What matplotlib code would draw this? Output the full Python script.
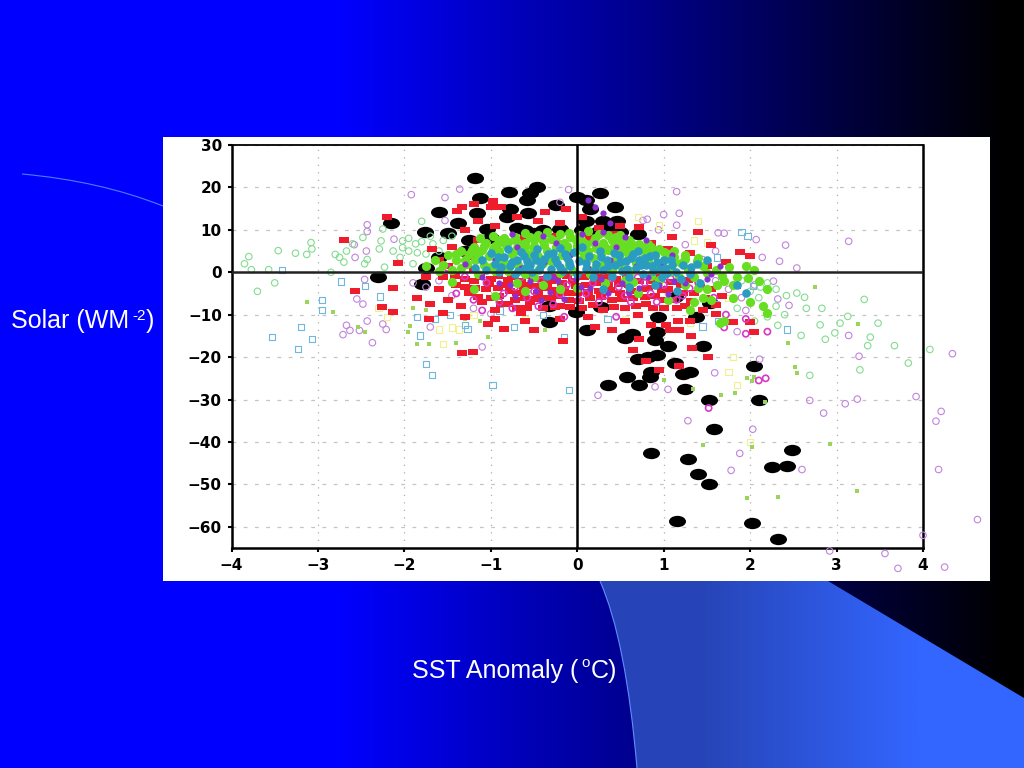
import numpy as np
import matplotlib
matplotlib.use("Agg")
import matplotlib.pyplot as plt
from matplotlib.path import Path
from matplotlib.patches import PathPatch, Rectangle

# ==================== data (SST anomaly, solar) ====================
black_pts = [(-1.18,22.3),(-1.13,17.5),(-0.79,19),(-0.55,18.7),(-0.47,20),(-0.58,17),(-0.78,15),(-0.57,14),
 (-1.6,14.2),(-1.16,14),(-0.25,15.8),(-2.15,11.5),(-1.76,9.5),(-1.5,9.2),(-1.38,11.5),(-1.04,10.3),(-0.81,13),(-0.6,10),(-0.4,10),
 (0.26,18.8),(0.0,17.7),(0.1,17),(0.15,15),(0.44,15.3),(0.1,12),(0.3,12),(0.46,12.2),(-1.25,7.5),(-1,8),
 (-0.7,10.5),(-0.2,10.2),(0.05,10),(0.25,9.8),(0.5,9.5),(0.7,9),(-0.5,9.3),(0.35,10.7),(-1.3,5),(-1.6,3.5),
 (-2.3,-1.2),(-1.8,-2.8),(-1.75,1),(-0.33,-7.9),(-0.33,-11.8),(-0.02,-9.4),(0.11,-13.6),(0.27,-8.2),
 (0.55,-15.5),(0.63,-14.5),(0.35,-26.5),(0.58,-24.8),(0.7,-20.5),(0.72,-26.5),(0.84,-24.8),(0.85,-23.5),(0.82,-20),
 (0.92,-19.5),(0.9,-16),(0.92,-14),(0.93,-10.6),(1.05,-17.5),(1.13,-21.5),(1.25,-27.5),(1.3,-23.5),(1.22,-24),
 (1.37,-10.6),(1.46,-17.3),(1.53,-30.2),(1.58,-37),(0.85,-42.7),(1.28,-44),(1.4,-47.5),(1.52,-50),(1.15,-58.7),
 (2.02,-59.2),(2.32,-62.8),(2.25,-46),(2.43,-45.7),(2.48,-41.8),(2.04,-22),(2.1,-30),(1.13,-5.8),(1.54,-7.3)]

purple_pts = [(-1.92,18.3),(-1.36,19.6),(-1.53,17.6),(-1.53,12.2),(-2.43,11.2),(-2.43,9.6),(-2.12,7.8),(-2.58,6.5),
 (-2.44,5),(-2.57,3.5),(-2.46,-1.7),(-2.55,-6.3),(-2.48,-7.5),(-2.43,-11.5),(-2.67,-12.5),(-2.71,-14.7),(-2.63,-13.7),
 (-2.52,-13.7),(-2.37,-16.6),(-2.25,-12.2),(-2.21,-13.5),(-1.7,-12.9),(-1.1,-17.6),(-1,-9.8),(1.15,19),(1,13.6),
 (1.18,13.9),(0.81,12.5),(0.76,12.2),(0.94,10),(1.15,11.1),(1.63,9.3),(1.7,9.2),(2.07,7.7),(2.41,6.4),(3.14,7.3),
 (2.34,2.6),(2.54,1),(2.27,-2.1),(2.32,-6.3),(2.45,-7.8),(3.14,-14.9),(3.26,-19.8),(4.34,-19.2),(2.14,3.5),(0.24,-29),
 (0.9,-27),(1.05,-27.6),(1.59,-23.7),(1.28,-35),(2.03,-37),(1.88,-42.7),(1.78,-46.7),(2.6,-46.5),(2.69,-30.2),
 (2.85,-33.2),(3.1,-31),(3.24,-29.9),(3.92,-29.3),(4.21,-32.8),(4.15,-35.1),(4.18,-46.5),(4.63,-58.3),(4,-62),
 (3.56,-66.3),(3.71,-69.8),(4.25,-69.5),(2.92,-65.7),(2.11,-20.5),(-1.9,-2.5),(-1.75,-3.5),(-1.6,-2),(-1.45,-5.5),
 (-1.2,-8.5),(1.6,-2),(1.75,-4),(1.9,-6),(2.05,-3),(1.45,3),(1.6,5),(1.25,6.5),(-0.1,19.5),(-0.2,16.5),(1.95,-9),(1.85,-14)]

red_pts = [(-2.2,13.1),(-2.7,7.5),(-2.07,2.2),(-2.57,-4.5),(-2.13,-3.7),(-2.26,-8.2),(-2.13,-9.4),(-1.72,-11),(-1.33,-19),
 (-1.21,-18.7),(-1.03,-12.2),(-0.85,-13.3),(-0.5,-13.6),(-0.17,-16.3),(-0.98,16.9),(-1.2,16),(-1.33,15.3),(-1.39,14.4),
 (-1,15.5),(-0.88,15.3),(-0.37,14.1),(-0.13,14.9),(0.72,10.7),(1.1,8.2),(1.4,9.4),(1.88,4.7),(2,3.8),(1.84,-3.3),
 (1.61,-9.8),(1.16,-11.5),(1.07,-13.7),(1.18,-13.7),(0.4,-13.6),(0.2,-12.8),(0.72,-15.8),(1.03,-12.4),(1.32,-15),
 (1.33,-17.8),(1.51,-20),(0.65,-18.4),(1.8,-11.8),(2.05,-14.1),(2,-11.8),(0.13,-10.6),(0.95,-23),(1.18,-22),(0.8,-21),
 (-1.6,-4),(-1.5,-6.5),(-1.4,-3),(-1.35,-8),(-1.25,-5),(-1.2,-2),(-1.1,-7),(-1.05,-4),(-1,-1.5),(-0.95,-9),(-0.9,-5.5),
 (-0.85,-3),(-0.8,-7.5),(-0.75,-1),(-0.7,-5),(-0.65,-9.5),(-0.6,-3),(-0.55,-7),(-0.5,-1.5),(-0.45,-5),(-0.4,-8.5),
 (-0.35,-3),(-0.3,-6),(-0.25,-1),(-0.2,-8),(-0.15,-4),(-0.1,-6.5),(-0.05,-2),(0,-5),(0.05,-8.5),(0.1,-3),(0.15,-6),
 (0.2,-1),(0.25,-4.5),(0.3,-9),(0.35,-3),(0.4,-6.5),(0.45,-1.5),(0.5,-5),(0.55,-8.5),(0.6,-3),(0.65,-6),(0.7,-10),
 (0.75,-4),(0.8,-7.5),(0.85,-2),(0.9,-5.5),(1,-8.5),(1.05,-4),(1.1,-6.5),(1.2,-3),(1.25,-8),(1.35,-5),(1.45,-9),(1.55,-4),
 (-1.3,10),(-1.15,12),(-0.95,11),(-0.7,13),(-0.45,12),(-0.2,11.5),(0.05,13),(0.25,10.5),(0.5,11),(-1.45,6),(-1.6,3),
 (-1.55,-1),(-1.42,-0.8),(-1.3,-1.5),(-1.3,-3.5),(-1.18,-3.8),(-1.12,-1),(-1.15,-5.8),(-1.02,-2.8),(-1,-6),(-0.92,-0.8),
 (-0.92,-3.8),(-0.88,-7.5),(-0.8,-1.8),(-0.78,-4.5),(-0.72,-6.5),(-0.7,-8.5),(-0.65,-2),(-0.62,-4.2),(-0.6,-6),(-0.58,-8.5),
 (-0.52,-0.8),(-0.5,-3.2),(-0.48,-6.2),(-0.42,-1.5),(-0.38,-3.8),(-0.38,-6),(-0.3,-2),(-0.28,-4.2),(-0.26,-8.2),(-0.22,-5.5),
 (-0.18,-2.6),(-0.12,-0.8),(-0.1,-4.8),(-0.08,-8.2),(-0.02,-3.2),(0.02,-6.8),(0.08,-1.2),(0.12,-4.6),(0.18,-7.8),(0.22,-2.6),
 (0.28,-5.8),(0.32,-1.2),(0.38,-4.2),(0.42,-8.2),(0.48,-2.8),(0.52,-6.4),(0.58,-1.2),(0.62,-4.4),(0.68,-8),(0.72,-2),(0.78,-5.8),
 (0.82,-3.6),(0.88,-8.4),(0.92,-1.2),(0.98,-4.2),(1.02,-6.6),(1.08,-2.2),(1.15,-8.5),(1.22,-5),(1.28,-1.8),(1.32,-6.8),(1.42,-3.5),
 (1.48,-6),(1.6,-7.8),(1.68,-5.5),(-1.2,0.8),(-0.9,1.5),(-1.25,3.5),(-1.5,1.5),(-1.75,-1),(-1.15,7.5),(-0.6,8),(-0.25,8.5),(0.15,8),
 (0.42,9),(0.6,6.5),(0.85,7),(1.05,5.5),(1.3,4.5),(1.5,1.5),(1.72,2.5),(1.55,6.5),(-1.68,5.5),(-1.85,-6),(-1.7,-7.5),(-1.55,-9.5),
 (-1.3,-10.5),(-0.95,-11),(-0.6,-11.5),(-0.2,-11),(0.55,-11.5),(0.85,-12.5),(1.3,-11.5)]

magenta_pts = [(-1.05,-2.5),(-0.9,-7),(-0.72,-3.5),(-0.58,-6),(-0.42,-2),(-0.28,-7.5),(-0.12,-3),(0.02,-6.5),(0.18,-2.5),
 (0.32,-5.5),(0.48,-3.5),(0.62,-7),(0.78,-2.5),(0.92,-7),(1.08,-1.5),(1.22,-5.5),(1.4,-2.5),(1.58,-6),(1.72,-10),(1.95,-14.5),
 (2.2,-14),(2.18,-25),(2.1,-25.5),(1.52,-32),(1.7,-13),(1.95,-11),(-1.3,-1),(-1.5,1),(-0.15,-10.5),(0.45,-10.5),
 (-0.85,-5),(-0.65,-1.2),(-0.5,-4.5),(-0.35,-1),(-0.2,-5.2),(-0.05,-1.2),(0.1,-5),(0.25,-7),(0.4,-1.5),(0.55,-5.5),(0.7,-1.2),(0.85,-5),
 (1,-3),(1.15,-6.5),(1.3,-3.8),(-1.2,-6.5),(-1.4,-5),(-1.1,-9),(-0.75,-8.5),(-0.45,-8)]

violet_pts = [(-1.3,2),(-1.1,-1),(-0.95,3),(-0.78,-3),(-0.65,1),(-0.48,-4.5),(-0.38,2.5),(-0.22,-2),(-0.08,4),(0.04,-3.5),
 (0.12,1),(0.28,-1.5),(0.38,3),(0.52,-2.5),(0.68,1.5),(0.82,-1),(0.98,2),(1.12,-2),(1.32,0.5),(1.5,-1.5),(0.2,7),(0.45,6),
 (0.3,14),(0.2,15.5),(0.12,17),(0.38,11.5),(-0.25,7),(-0.7,6),(1.65,1.5),(1.1,4),(1.55,-0.5),
 (-0.9,-2.5),(-0.72,-5.5),(-0.55,-2),(-0.42,-6.5),(-0.32,-4.6),(-0.28,-1.2),(-0.15,-6.2),(-0.02,-1.5),(0.15,-3.6),(0.35,-5),(0.6,-5),
 (0.72,-3.6),(0.95,-3),(1.05,-5.2),(1.25,-2.6),(-0.75,9),(-0.4,8.6),(0.05,9),(0.3,9.4),(0.55,8.4),(0.8,7.6)]

teal_pts = [(-1.18,1),(-1.1,3),(-1.05,0.5),(-1,4.5),(-0.95,2),(-0.9,0),(-0.85,3.5),(-0.8,5.5),(-0.78,1.5),(-0.72,-0.5),(-0.7,3),
 (-0.65,4.8),(-0.6,1),(-0.58,2.6),(-0.52,0),(-0.5,4),(-0.46,5.6),(-0.42,1.8),(-0.38,3.2),(-0.35,-0.8),(-0.3,0.8),(-0.28,4.6),
 (-0.24,2.2),(-0.2,5.8),(-0.16,0.2),(-0.12,3.4),(-0.08,1.4),(-0.04,4.8),(0,-0.5),(0.02,2.6),(0.06,6),(0.1,0.8),(0.14,3.8),
 (0.18,-1),(0.22,2),(0.26,5),(0.3,0.5),(0.34,3),(0.4,-0.8),(0.44,1.6),(0.48,4),(0.52,0.2),(0.56,2.6),(0.6,-1.2),(0.64,4.4),
 (0.68,1),(0.72,3),(0.76,-0.5),(0.8,1.8),(0.84,3.8),(0.88,0.2),(0.92,2.4),(0.98,-1),(1.02,1),(1.08,2.8),(1.14,0),(1.22,1.6),
 (1.3,-0.5),(1.38,2),(0.9,-3),(0.6,-3.5),(0.3,-4),(1.15,-4.5),(1.42,-2.5),(1.5,3),(1.85,-3),(1.95,-5),
 (-0.92,3.6),(-0.88,1.2),(-0.75,2.4),(-0.68,0.4),(-0.62,3.8),(-0.55,1.6),(-0.48,2.8),(-0.44,0.5),(-0.34,4.2),(-0.26,3.2),(-0.2,1.2),
 (-0.14,4.4),(-0.1,2.4),(0.1,2.2),(0.2,0.6),(0.28,3.6),(0.36,1.4),(0.42,4.6),(0.5,2.4),(0.58,0.8),(0.62,3.4),(0.7,5),(0.74,1.6),
 (0.78,3.4),(0.86,1.4),(0.9,4),(0.96,0.8),(1.0,2.8),(1.04,-0.2),(1.1,1.8),(1.2,-1.5),(1.32,1.2)]

lime_pts = [(-0.6,9.2),(-0.35,9.6),(-0.1,9.3),(0.12,9.7),(0.35,8.9),(-0.85,8.1),(-0.55,8.3),(-0.3,7.9),(-0.08,8.4),(0.2,8),
 (0.45,8.3),(0.6,7.6),(-1.05,7),(-0.8,7.2),(-0.6,6.8),(-0.4,7.3),(-0.15,6.9),(0.05,7.4),(0.3,6.9),(0.5,7.1),(0.72,6.6),
 (-1.2,6),(-0.95,6.2),(-0.7,5.8),(-0.5,6.3),(-0.25,5.9),(0,6.2),(0.22,5.8),(0.42,6.2),(0.65,5.7),(0.85,5.9),(-1.35,5),
 (-1.1,5.2),(-0.9,4.9),(-0.62,5.3),(-0.35,5),(-0.12,5.3),(0.12,4.9),(0.35,5.2),(0.55,4.9),(0.78,5.1),(1,4.8),(-1.5,4),
 (-1.25,4.2),(-1.02,3.8),(-0.75,4.2),(-0.45,3.8),(-0.18,4.1),(0.08,3.9),(0.28,4.2),(0.6,3.8),(0.9,4.1),(1.12,3.7),(-1.4,3),
 (-1.18,2.8),(-0.88,2.9),(-0.55,3.2),(-0.3,2.7),(0.05,3.1),(0.42,2.7),(0.75,3.1),(1,2.9),(1.25,3.1),(-1.55,1.8),(-1.28,2),
 (-1,1.2),(-0.68,1.8),(-0.44,0.8),(-0.1,1.8),(0.2,1),(0.5,1.6),(0.95,1.5),(1.2,2.2),(1.45,1.5),(-1.45,0.5),(-1.15,-0.5),
 (-0.8,0.3),(-0.5,-1),(-0.2,-0.2),(0.15,-0.5),(0.62,0.4),(1.1,0.2),(1.35,-1),(1.6,0.5),(-1.65,3),(-1.75,1.5),(0.55,-1.8),
 (0.95,-1.8),(1.25,-3),(1.5,-4),(1.35,-7),(1.55,-6.5),(1.7,-2),(1.85,-1),(1.75,1.2),(1.95,1.5),(2.05,0.5),(2.1,-2),(2.2,-4),
 (1.8,-6),(2,-7),(2.15,-8),(2.2,-9.5),(1.65,-12),(1.7,-11.5),(-0.9,7.5),(-0.2,-4),(-0.6,-4.5),(0.7,-5),(1.05,-6.5),
 (-1.12,8),(-0.98,8.6),(-0.72,8.4),(-0.45,8.9),(-0.2,9),(0.02,8.8),(0.25,9),(0.5,8.8),(-0.92,7),(-0.7,7.1),(-0.5,7.6),(-0.25,7.4),
 (-0.02,7.6),(0.18,7.1),(0.4,7.5),(0.62,6.8),(0.82,6.6),(-1.08,6.2),(-0.82,6.4),(-0.6,6),(-0.38,6.4),(-0.12,6.2),(0.1,6.6),
 (0.32,6),(0.55,6.2),(0.75,5.8),(0.95,5.4),(1.12,5),(-1.22,5.2),(-0.98,5.4),(-0.72,5),(-0.5,5.4),(0.02,5.2),(0.24,5.4),(0.46,5.4),
 (0.68,5.4),(0.88,5),(1.05,4.2),(1.25,4),(1.4,3.4),(-1.4,4.2),(-1.15,4),(-0.9,4.2),(-0.58,4.4),(-0.3,3.6),(0.18,3.4),(0.5,3.2),
 (0.82,2.6),(1.12,2.4),(1.38,2.6),(-1.3,2.8),(-1.08,1.8),(-0.82,2),(-0.4,2.2),(0.3,1.8),(0.68,2.2),(1.28,0.8),(-1.35,1),(-1.6,0.4),
 (-0.95,0.2),(-0.6,-0.4),(-0.05,0.4),(0.4,0.6),(0.85,-0.8),(1.5,-0.2),(1.68,-0.8),(-1.45,-2.4),(-1.2,-4),(-0.95,-5.5),(-0.7,-2.6),
 (-0.4,-3),(0,-3.6),(0.32,-2.6),(0.65,-2.2),(1.18,-1.2),(1.4,-3.6),(1.62,-3),(1.8,-3),(1.98,-1.4),(1.45,-6),(1.3,-9)]

green_pts = [(-3.8,3.7),(-3.85,2),(-3.77,0.6),(-3.57,0.6),(-3.5,-2.5),(-3.7,-4.5),(-3.46,5.1),(-3.26,4.5),(-3.13,4.2),
 (-3.07,5.5),(-3.08,7),(-2.85,0),(-2.8,4.2),(-2.75,3.5),(-2.7,2.4),(-2.67,5),(-2.48,8.2),(-2.6,6.7),(-2.46,2),(-2.43,3),
 (-2.29,5.5),(-2.27,7.4),(-2.25,10.2),(-1.8,12),(-2.23,1.2),(-2.13,5),(-2.02,7.4),(-1.95,5),(-1.87,6.7),(-1.75,4.3),
 (-1.67,6.7),(-1.6,5),(-2.05,3.5),(-1.9,2),(-1.55,7.5),(-1.45,8.5),(3.32,-6.4),(3.48,-12),(2.63,-5.9),(2.83,-8.5),(2.65,-8.5),
 (2.54,-4.9),(2.81,-12.4),(3.04,-12),(3.13,-10.4),(2.98,-14.3),(2.87,-15.8),(3.39,-15.3),(2.59,-14.9),(3.36,-17.3),
 (3.67,-17.3),(4.08,-18.2),(3.83,-21.4),(2.69,-24.3),(3.27,-23),(2.2,-2.5),(2.3,-4),(2.42,-5.5),(2.3,-8),(2.4,-10),(2.32,-12.5),
 (2.1,-6),(2.2,-10.5),(2.05,-11.5),(-2.02,5.8),(-1.85,4.6),(-1.8,7.2),(-1.95,8),(-1.7,8.5),(1.9,-2),(2.0,-4.5),(2.12,-3.5),(1.85,-8.5)]

lime_small_pts = [(2.75,-3.4),(3.25,-12.3),(2.44,-16.6),(2.52,-22.4),(2.54,-23.8),(1.46,-40.8),(2.02,-41.2),(2.92,-40.4),
 (3.24,-51.6),(1.96,-53.2),(2.32,-52.9),(1.66,-28.9),(1.83,-28.5),(2.17,-30.6),(1.96,-25),(2.04,-24.8),(2.02,-25.6),(1.34,-27.5),
 (1,-25.3),(-3.13,-7),(-2.82,-9.3),(-2.54,-12.9),(-2.46,-14.1),(-1.96,-14),(-1.94,-12.7),(-1.9,-8.5),(-1.75,-8.9),(-1.85,-17),
 (-1.72,-17),(-1.4,-16.6),(-1.03,-15.3),(-1.3,-11),(-1.13,-11.4),(-0.37,-13.5)]

cyan_pts = [(-3.42,0.6),(-2.73,-2.2),(-2.95,-6.5),(-2.95,-8.9),(-3.2,-12.9),(-3.53,-15.3),(-3.07,-15.8),(-3.23,-18),(-2.46,-3.3),
 (-2.28,-5.7),(-1.85,-10.6),(-1.65,-11.1),(-1.47,-10),(-1.82,-14.9),(-1.75,-21.6),(-1.68,-24.3),(-0.98,-26.5),(-0.1,-27.7),
 (-1.3,-12.5),(-1.27,-13.3),(-0.73,-12.9),(-0.15,-15.3),(1.9,9.5),(1.97,8.5),(1.6,-7.5),(1.63,-11.5),(1.45,-12.8),(2.03,-3.2),
 (2.43,-13.5),(1.62,3.5),(-0.9,-9),(-0.4,-10),(0.35,-11)]

yellow_pts = [(-2.3,-8.5),(-2.2,-10.5),(-1.6,-13.5),(-1.45,-13),(-1.37,-13.5),(-1.55,-17),(-1.2,-10),(-0.6,-11),(0.7,13),(0.95,11),
 (1.4,12),(1.5,7),(1.75,-6),(1.8,-20),(1.75,-23.5),(1.85,-26.5),(2,-40),(0.55,-11),(1.3,-12),(1.1,5),(1.35,7.5)]

x_ticks = [-4, -3, -2, -1, 0, 1, 2, 3, 4]
y_ticks = [-60, -50, -40, -30, -20, -10, 0, 10, 20, 30]
# ================================================

plt.rcParams['font.family'] = ['Liberation Sans', 'DejaVu Sans']

fig = plt.figure(figsize=(10.24, 7.68), dpi=100)

# slide background, drawn in pixel coordinates
bg = fig.add_axes([0, 0, 1, 1])
bg.axis("off")

grad = np.zeros((1, 1024, 3))
grad[0, :, 2] = np.clip((1005 - np.arange(1024)) / 665.0, 0, 1)
bg.imshow(grad, extent=(0, 1024, 768, 0), aspect="auto", zorder=0)

shape = Path([(600, 581), (626, 640), (637, 768), (637, 768), (1024, 768), (1024, 698), (828, 581), (600, 581)],
             [Path.MOVETO, Path.CURVE3, Path.CURVE3, Path.LINETO, Path.LINETO, Path.LINETO, Path.LINETO, Path.CLOSEPOLY])
patch = PathPatch(shape, facecolor="none", edgecolor="none", transform=bg.transData, zorder=1)
bg.add_patch(patch)
shade = np.zeros((1, 2, 3))
shade[0, 0] = (0.15, 0.27, 0.72)
shade[0, 1] = (0.2, 0.4, 1.0)
im = bg.imshow(shade, extent=(600, 1024, 768, 581), aspect="auto", zorder=1, interpolation="bilinear")
im.set_clip_path(patch)
bg.set_xlim(0, 1024)
bg.set_ylim(768, 0)

arc = Path([(22, 174), (100, 181), (163, 206)], [Path.MOVETO, Path.CURVE3, Path.CURVE3])
bg.add_patch(PathPatch(arc, facecolor="none", edgecolor="#4f7dff", lw=0.8, zorder=1))
edge = Path([(600, 581), (626, 640), (637, 768)], [Path.MOVETO, Path.CURVE3, Path.CURVE3])
bg.add_patch(PathPatch(edge, facecolor="none", edgecolor="#5f8dff", lw=0.8, zorder=2))
bg.add_patch(Rectangle((163, 137), 827, 444, facecolor="white", edgecolor="none", zorder=3))

# slide text
bg.text(11, 328, "Solar (WM", color="white", fontsize=18, zorder=5)
bg.text(132, 320, "-2", color="white", fontsize=11, zorder=5)
bg.text(146, 328, ")", color="white", fontsize=18, zorder=5)
bg.text(412, 678, "SST Anomaly (", color="white", fontsize=18, zorder=5)
bg.text(581, 667, "o", color="white", fontsize=11, zorder=5)
bg.text(591, 678, "C)", color="white", fontsize=18, zorder=5)

# the scatter plot
ax = fig.add_axes([231.5 / 1024, 1 - 548 / 768, 691.5 / 1024, 403 / 768])
ax.patch.set_alpha(0)
ax.set_xlim(-4, 4)
ax.set_ylim(-65, 30)
ax.set_xticks(x_ticks)
ax.set_xticklabels([str(v).replace("-", "\u2212") for v in x_ticks])
ax.set_yticks(y_ticks)
ax.set_yticklabels([str(v).replace("-", "\u2212") for v in y_ticks])
ax.tick_params(length=3, width=1.5, pad=4, labelsize=11)
for lab in ax.get_xticklabels() + ax.get_yticklabels():
    lab.set_fontfamily("DejaVu Sans")
    lab.set_fontweight("bold")
for s in ax.spines.values():
    s.set_linewidth(1.8)
ax.spines["top"].set_linewidth(1.3)
ax.set_axisbelow(True)
ax.grid(True, axis="x", color="#b0b0b0", lw=0.9, ls=(0, (1, 5)))
ax.grid(True, axis="y", color="#c4c4c4", lw=0.9, ls=(0, (3, 6)))

oval = Path.unit_circle().transformed(matplotlib.transforms.Affine2D().scale(1.5, 1))
brick = Path([(-1, -0.6), (1, -0.6), (1, 0.6), (-1, 0.6), (-1, -0.6)], closed=True)


def pts(data, **kw):
    a = np.array(data)
    ax.scatter(a[:, 0], a[:, 1], clip_on=False, **kw)


pts(black_pts, marker=oval, s=150, c="black", lw=0, zorder=3)
pts(purple_pts, marker="o", s=22, facecolors="none", edgecolors="#c084dc", lw=0.8, zorder=3.1)
pts(yellow_pts, marker="s", s=20, facecolors="none", edgecolors="#f2f08c", lw=0.8, zorder=3.1)
pts(cyan_pts, marker="s", s=20, facecolors="none", edgecolors="#6fb7dc", lw=0.8, zorder=3.2)
pts(green_pts, marker="o", s=22, facecolors="none", edgecolors="#83dc8f", lw=0.8, zorder=3.2)
pts(lime_small_pts, marker="s", s=7, c="#9ad45a", lw=0, zorder=3.2)
pts(red_pts, marker=brick, s=50, c="#ee1c2c", lw=0, zorder=3.3)
pts(magenta_pts, marker="o", s=20, facecolors="none", edgecolors="#d838c8", lw=1.2, zorder=3.4)
pts(lime_pts, marker="o", s=44, c="#68de22", lw=0, zorder=3.5)
pts(violet_pts, marker="o", s=20, c="#8a2fd0", lw=0, zorder=3.6)
pts(teal_pts, marker="o", s=38, c="#2a9cc0", lw=0, zorder=3.7)

ax.axhline(0, color="#222222", lw=1.8, zorder=4)
ax.axvline(0, color="black", lw=1.8, zorder=4)

fig.savefig("out.png", dpi=100)
